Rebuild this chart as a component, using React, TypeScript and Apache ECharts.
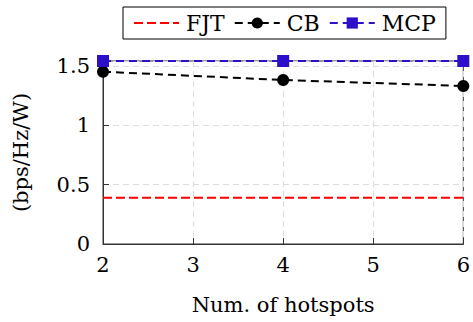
import React, { useEffect, useRef } from "react";
import * as echarts from "echarts";

// Number of hotspots on the x axis
const hotspots = [2, 4, 6];
// Energy efficiency (bps/Hz/W) per scheme
const fjtValues = [0.39, 0.39, 0.39];
const cbValues = [1.45, 1.38, 1.33];
const mcpValues = [1.54, 1.54, 1.54];
const yTicks = [0, 0.5, 1, 1.5];

const SERIF = "DejaVu Serif";
const BLUE = "#2c0fc9";

export default function App() {
  const ref = useRef<HTMLDivElement>(null);

  useEffect(() => {
    if (!ref.current) return;
    const chart = echarts.init(ref.current, undefined, { renderer: "svg" });
    const pts = (ys: number[]) => hotspots.map((x, i) => [x, ys[i]]);
    const txt = { fontFamily: SERIF, fontSize: 21, color: "#000" };

    chart.setOption({
      animation: false,
      backgroundColor: "#ffffff",
      textStyle: { fontFamily: SERIF },
      grid: {
        left: 103,
        right: 6,
        top: 61,
        bottom: 78,
        show: true,
        borderColor: "#333",
        borderWidth: 1,
      },
      legend: {
        left: 123,
        top: 7,
        itemWidth: 45,
        itemHeight: 14,
        itemGap: 9,
        padding: [5, 10, 5, 10],
        borderColor: "#000",
        borderWidth: 1,
        textStyle: { ...txt, fontSize: 22, padding: [0, 0, 0, 2] },
        data: [
          { name: "FJT", itemStyle: { opacity: 0 } },
          { name: "CB" },
          { name: "MCP" },
        ],
      },
      xAxis: {
        type: "value",
        min: 2,
        max: 6,
        interval: 1,
        name: "Num. of hotspots",
        nameLocation: "middle",
        nameGap: 50,
        nameTextStyle: txt,
        axisLine: { show: true, lineStyle: { color: "#333", width: 1 } },
        axisTick: { show: true, inside: true, length: 6, lineStyle: { color: "#333" } },
        axisLabel: { ...txt, margin: 10 },
        splitLine: { show: true, lineStyle: { color: "#dcdcdc", type: [6, 4] } },
      },
      yAxis: {
        type: "value",
        min: 0,
        max: mcpValues[0],
        interval: 0.5,
        name: "(bps/Hz/W)",
        nameLocation: "middle",
        nameGap: 72,
        nameTextStyle: txt,
        axisLine: { show: true, lineStyle: { color: "#333", width: 1 } },
        axisTick: { show: true, inside: true, length: 6, lineStyle: { color: "#333" } },
        axisLabel: {
          ...txt,
          margin: 13,
          showMaxLabel: false,
          formatter: (v: number) => (yTicks.includes(v) ? String(v) : ""),
        },
        splitLine: { show: true, lineStyle: { color: "#dcdcdc", type: [6, 4] } },
      },
      series: [
        {
          name: "FJT",
          type: "line",
          data: pts(fjtValues),
          symbol: "none",
          lineStyle: { color: "#ff0000", width: 2, type: [9, 4] },
          itemStyle: { color: "#ff0000" },
          z: 3,
        },
        {
          name: "CB",
          type: "line",
          data: pts(cbValues),
          symbol: "circle",
          symbolSize: 12,
          lineStyle: { color: "#000", width: 2, type: [8, 5] },
          itemStyle: { color: "#000" },
          z: 4,
        },
        {
          name: "MCP",
          type: "line",
          data: pts(mcpValues),
          symbol: "rect",
          symbolSize: 12,
          clip: false,
          lineStyle: { color: BLUE, width: 2, type: [8, 5] },
          itemStyle: { color: BLUE },
          z: 5,
        },
      ],
    });

    return () => chart.dispose();
  }, []);

  return (
    <div
      ref={ref}
      style={{ position: "fixed", left: 0, top: 0, width: 473, height: 322, background: "#fff" }}
    />
  );
}
